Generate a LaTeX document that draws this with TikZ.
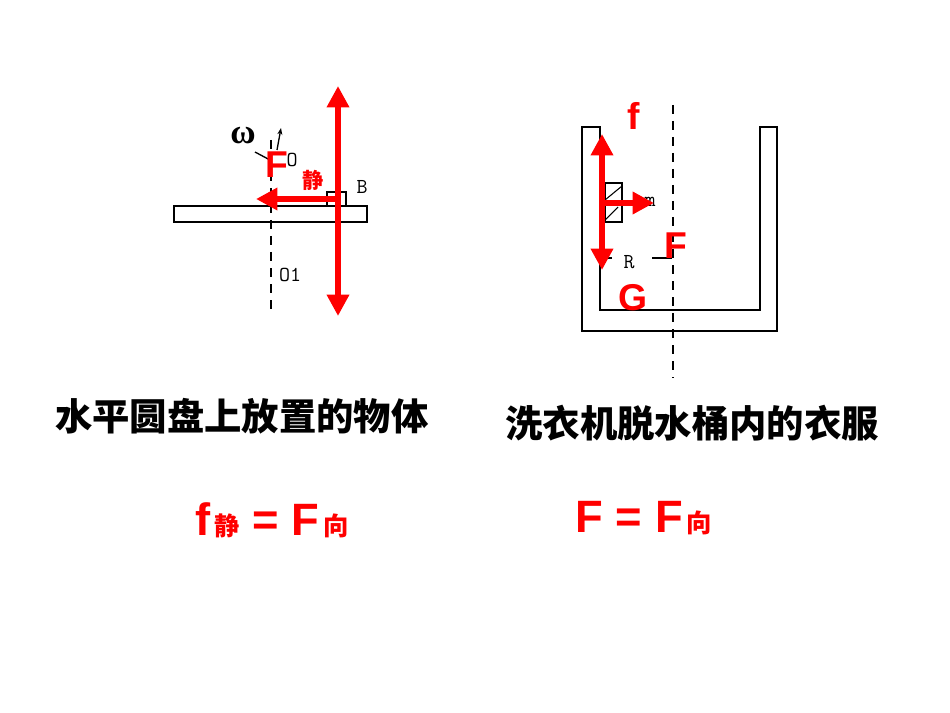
\documentclass[tikz,border=0pt]{standalone}
\usepackage{fontspec}
\setmainfont{Liberation Sans}
\newfontfamily\cjk{Noto Sans CJK SC}
\newfontfamily\grk{Liberation Serif}
\usetikzlibrary{arrows.meta}
\tikzset{
  force/.style={red, line width=4.5pt, -{Triangle[length=16pt,width=16pt]}},
  dforce/.style={red, line width=4.5pt, {Triangle[length=16pt,width=16pt]}-{Triangle[length=16pt,width=16pt]}},
  axis/.style={dashed, dash pattern=on 7pt off 5pt, line width=0.9pt},
  wall/.style={line width=1.8pt},
  lbl/.style={font=\fontsize{16}{16}\selectfont\ttfamily, inner sep=0pt},
  redlbl/.style={red, font=\fontsize{28}{28}\selectfont\bfseries, inner sep=0pt},
  title/.style={font=\fontsize{28}{28}\selectfont\cjk\bfseries, inner sep=0pt},
  eqn/.style={red, font=\fontsize{34}{34}\selectfont\bfseries, inner sep=0pt}
}
\newcommand\sublbl[1]{{\fontsize{19}{19}\selectfont\cjk\,#1}}
\begin{document}
\begin{tikzpicture}[x=0.75pt,y=-0.75pt]
    \useasboundingbox (0,0) rectangle (950,713);
    %Disk
        \draw[line width=1pt] (174,206) rectangle (367,222);
        \draw[axis] (271,140)--(271,315);
        \draw[line width=1pt] (327,192) rectangle (346,206);
        \draw[-{Stealth[length=5pt]}, line width=1pt] (277,150)--(281,128);
        \node[font=\fontsize{26}{26}\selectfont\grk\bfseries, inner sep=0pt] (omega) at (243,136) {ω};
        \coordinate (wtip) at (270,160);
        \draw[line width=1pt] (255,152)--(wtip);
        \node[lbl] (o) at (292,160) {O};
        \node[lbl] (b) at (362,187) {B};
        \node[lbl] (o1) at (290,275) {O1};
        \coordinate (bc) at (338,199);
        \coordinate (ftip) at (256,199);
        \coordinate (up) at (338,86);
        \coordinate (dn) at (338,316);
        \draw[dforce] (up)--(dn);
        \draw[force] (bc)--(ftip);
        \node[redlbl] (fs) at (277,165) {F};
        \node[red, font=\fontsize{16}{16}\selectfont\cjk\bfseries, inner sep=0pt] (jing) at (313,180) {静};

    %Drum
        \draw[wall] (582,127)--(582,331)--(777,331)--(777,127)--(760,127)--(760,310)--(600,310)--(600,127)--cycle;
        \draw[axis] (673,105)--(673,378);
        \draw[line width=1pt] (605,183) rectangle (622,222);
        \draw[line width=0.8pt] (605,200)--(622,186) (605,220)--(618,207);
        \node[lbl] (m) at (650,202) {m};
        \node[lbl] (r) at (629,262) {R};
        \draw[line width=1pt] (607,258)--(612,258) (652,258)--(672,258);
        \coordinate (mc) at (602,203);
        \coordinate (mtip) at (654,203);
        \coordinate (top) at (602,134);
        \coordinate (bot) at (602,270);
        \draw[dforce] (top)--(bot);
        \draw[force] (mc)--(mtip);
        \node[redlbl] (f) at (634,116) {f};
        \node[redlbl] (F) at (676,246) {F};
        \node[redlbl] (G) at (633,298) {G};

    %Texts
        \node[title] (t1) at (242,416) {水平圆盘上放置的物体};
        \node[title] (t2) at (692,423) {洗衣机脱水桶内的衣服};
        \node[eqn] (eq1) at (272,520) {f\sublbl{静}\ =\ F\sublbl{向}};
        \node[eqn] (eq2) at (644,518) {F\ =\ F\sublbl{向}};
\end{tikzpicture}
\end{document}
